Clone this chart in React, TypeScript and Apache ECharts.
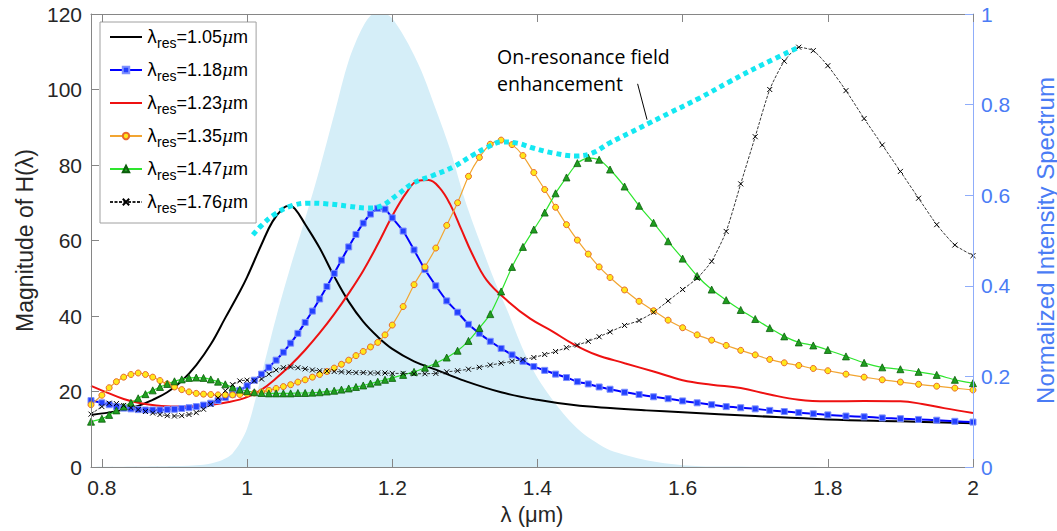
import React, { useEffect, useRef } from "react";
import * as echarts from "echarts";

// ---- tick labels ----
const xTicks = [0.8, 1.0, 1.2, 1.4, 1.6, 1.8, 2.0];

// ---- common wavelength grid for the marker series (µm) ----
const gridX = [
  0.785, 0.8, 0.81, 0.82, 0.83, 0.84, 0.85, 0.86, 0.87, 0.88, 0.89,
  0.9, 0.91, 0.92, 0.93, 0.94, 0.95, 0.96, 0.97, 0.98, 0.99,
  1.0, 1.01, 1.02, 1.03, 1.04, 1.05, 1.06, 1.07, 1.08, 1.09,
  1.1, 1.11, 1.12, 1.13, 1.14, 1.15, 1.16, 1.17, 1.18, 1.19, 1.2,
  1.215, 1.23, 1.245, 1.26, 1.275, 1.29, 1.305, 1.32, 1.335, 1.35, 1.365, 1.38, 1.395, 1.41, 1.425, 1.44, 1.455, 1.47, 1.485, 1.5,
  1.52, 1.54, 1.56, 1.58, 1.6, 1.62, 1.64, 1.66, 1.68, 1.7, 1.72, 1.74, 1.76, 1.78, 1.8,
  1.825, 1.85, 1.875, 1.9, 1.925, 1.95, 1.975, 2.0,
];

const res118 = [
  17.6, 17.0, 16.5, 16.0, 15.6, 15.4, 15.2, 15.1, 15.1, 15.1, 15.2,
  15.3, 15.5, 15.7, 16.0, 16.4, 16.9, 17.6, 18.4, 19.3, 20.3,
  21.5, 23.0, 24.6, 26.4, 28.3, 30.4, 32.8, 35.4, 38.3, 41.3,
  44.5, 47.8, 51.3, 54.8, 58.3, 61.6, 64.6, 67.0, 68.5, 68.3, 66.0,
  62.5, 57.5, 52.3, 48.0, 44.0, 41.0, 37.8, 35.4, 33.3, 31.4, 29.7, 28.0, 26.6, 25.6, 24.6, 23.7, 22.6, 22.0, 21.2, 20.6,
  19.8, 19.2, 18.6, 18.1, 17.5, 17.0, 16.5, 16.0, 15.7, 15.4, 15.0, 14.7, 14.4, 14.1, 13.8,
  13.5, 13.3, 13.0, 12.8, 12.6, 12.4, 12.1, 11.9,
];

const res135 = [
  16.5, 19.0, 21.0, 22.6, 23.8, 24.5, 24.9, 24.5, 23.8, 22.9, 22.0,
  21.2, 20.5, 19.9, 19.5, 19.3, 19.2, 19.1, 19.1, 19.1, 19.2,
  19.4, 19.6, 19.9, 20.3, 20.8, 21.3, 21.8, 22.5, 23.1, 23.8,
  24.5, 25.3, 26.2, 27.2, 28.3, 29.5, 30.6, 31.8, 33.0, 35.0, 37.6,
  42.5, 48.3, 53.0, 58.0, 64.0, 70.0, 77.0, 82.0, 85.5, 86.6, 85.4, 82.5, 78.0, 73.5, 68.8, 64.2, 60.1, 56.4, 53.0, 50.2,
  46.9, 43.9, 41.4, 38.9, 36.9, 35.0, 33.6, 32.2, 30.9, 29.7, 28.5, 27.6, 26.9, 26.1, 25.5,
  24.6, 23.8, 23.1, 22.5, 21.9, 21.4, 20.9, 20.4,
];

const res147 = [
  12.0, 12.8, 13.8, 15.0, 16.0, 17.0, 18.2, 19.3, 20.3, 21.2, 22.0,
  22.7, 23.2, 23.6, 23.7, 23.6, 23.2, 22.6, 21.9, 21.1, 20.5,
  20.1, 19.8, 19.6, 19.5, 19.5, 19.5, 19.5, 19.6, 19.6, 19.7,
  19.8, 20.0, 20.2, 20.5, 20.8, 21.2, 21.6, 22.1, 22.6, 23.1, 23.6,
  24.4, 25.2, 26.3, 27.5, 29.0, 30.8, 33.4, 36.8, 40.5, 46.5, 53.0, 58.3, 62.9, 67.4, 72.5, 76.7, 80.5, 81.9, 81.4, 78.8,
  74.3, 69.2, 64.7, 59.8, 55.2, 50.6, 47.0, 44.2, 41.6, 39.2, 36.8, 34.6, 33.0, 32.2, 31.0,
  29.3, 27.6, 26.4, 25.9, 25.2, 24.4, 23.1, 22.2,
];

const res176 = [
  14.0, 16.0, 16.9, 16.8, 16.3, 15.7, 15.2, 14.7, 14.3, 13.9, 13.6,
  13.5, 13.6, 13.9, 14.4, 15.3, 16.6, 18.3, 20.2, 21.8, 22.8,
  23.0, 22.8, 23.3, 24.6, 25.7, 26.3, 26.5, 26.3, 26.0, 25.7,
  25.5, 25.4, 25.3, 25.2, 25.1, 25.0, 25.0, 24.9, 24.9, 24.9, 24.8,
  24.8, 24.7, 24.7, 24.8, 25.2, 25.5, 25.9, 26.4, 27.0, 27.5, 28.0, 28.5, 29.0, 29.8, 30.6, 31.6, 32.3, 33.3, 34.5, 35.8,
  37.5, 38.8, 41.0, 44.0, 47.0, 50.0, 54.5, 62.4, 75.0, 87.5, 100.0, 107.5, 111.2, 110.3, 106.3,
  99.7, 92.3, 85.3, 78.3, 71.2, 64.2, 58.8, 56.0,
];

// ---- solid curves: [wavelength, |H|] ----
const res105: [number, number][] = [
  [0.785, 13.8], [0.82, 14.8], [0.85, 16.2], [0.87, 17.8], [0.89, 19.8], [0.91, 22.8],
  [0.93, 27.0], [0.95, 32.5], [0.97, 39.5], [0.99, 46.5], [1.0, 50.3], [1.02, 59.0],
  [1.035, 65.0], [1.05, 68.6], [1.058, 69.2], [1.066, 68.4], [1.08, 64.3], [1.1, 58.0],
  [1.12, 50.5], [1.14, 43.8], [1.16, 38.5], [1.18, 34.5], [1.2, 31.3], [1.23, 28.0],
  [1.26, 25.8], [1.3, 22.8], [1.35, 19.8], [1.4, 17.8], [1.45, 16.4], [1.5, 15.6],
  [1.55, 15.0], [1.6, 14.5], [1.7, 13.5], [1.8, 12.6], [1.9, 12.1], [2.0, 11.6],
];

const res123: [number, number][] = [
  [0.785, 21.5], [0.81, 19.5], [0.83, 18.0], [0.85, 17.0], [0.875, 16.3], [0.9, 16.0],
  [0.925, 16.1], [0.95, 16.5], [0.975, 17.2], [1.0, 18.5], [1.02, 20.5], [1.04, 23.5],
  [1.06, 27.0], [1.08, 31.0], [1.1, 35.5], [1.12, 40.5], [1.14, 46.0], [1.16, 52.0],
  [1.18, 59.0], [1.2, 66.5], [1.22, 72.8], [1.235, 75.8], [1.25, 76.0], [1.265, 74.0],
  [1.28, 69.5], [1.295, 63.0], [1.31, 56.5], [1.33, 49.5], [1.36, 43.8], [1.39, 39.3],
  [1.42, 36.0], [1.45, 32.5], [1.48, 29.8], [1.52, 27.5], [1.56, 25.3], [1.6, 23.0],
  [1.64, 21.8], [1.68, 20.9], [1.72, 19.2], [1.76, 17.8], [1.8, 17.4], [1.85, 17.5],
  [1.9, 17.4], [1.93, 16.7], [1.96, 15.6], [2.0, 14.3],
];

// ---- on-resonance field enhancement envelope ----
const envelope: [number, number][] = [
  [1.008, 61.5], [1.02, 64.0], [1.037, 66.8], [1.06, 69.1], [1.084, 69.9], [1.111, 69.7],
  [1.139, 69.1], [1.166, 68.6], [1.184, 69.1], [1.207, 72.1], [1.229, 75.2], [1.257, 77.3],
  [1.284, 79.5], [1.311, 82.6], [1.33, 84.6], [1.351, 86.1], [1.372, 85.8], [1.394, 84.5],
  [1.421, 83.2], [1.454, 82.4], [1.476, 83.2], [1.499, 85.8], [1.527, 88.5], [1.554, 91.1],
  [1.582, 93.8], [1.623, 97.7], [1.664, 102.0], [1.709, 106.5], [1.761, 111.3],
];

// ---- normalized intensity spectrum (right axis) ----
const spectrum: [number, number][] = [
  [0.785, 0], [0.9, 0.002], [0.94, 0.005], [0.96, 0.012], [0.98, 0.03], [1.0, 0.085],
  [1.02, 0.205], [1.04, 0.33], [1.06, 0.443], [1.08, 0.548], [1.1, 0.658], [1.12, 0.778],
  [1.14, 0.897], [1.16, 0.973], [1.175, 1.0], [1.19, 1.0], [1.2, 0.99], [1.22, 0.94],
  [1.24, 0.875], [1.26, 0.79], [1.28, 0.70], [1.3, 0.59], [1.32, 0.50], [1.34, 0.415],
  [1.36, 0.34], [1.38, 0.26], [1.4, 0.197], [1.42, 0.15], [1.44, 0.11], [1.46, 0.078],
  [1.48, 0.055], [1.5, 0.037], [1.55, 0.015], [1.6, 0.004], [1.65, 0.001], [2.0, 0],
];

const legendNames = ["1.05", "1.18", "1.23", "1.35", "1.47", "1.76"];
const annotationText = "On-resonance field\nenhancement";
const arrowStart: [number, number] = [1.538, 101.5];
const arrowEnd: [number, number] = [1.551, 92.0];

const zip = (xs: number[], ys: number[]) => xs.map((x, i) => [x, ys[i]]);

const FONT = "Liberation Sans";
const AX = "#868686";
const TXT = "#262626";
const BLUE = "#4a7cf5";

export default function App() {
  const ref = useRef<HTMLDivElement>(null);

  useEffect(() => {
    if (!ref.current) return;
    const chart = echarts.init(ref.current, undefined, { renderer: "svg" });
    const xAxisCommon = {
      type: "value",
      min: 0.785,
      max: 2,
      splitLine: { show: false },
      axisLine: { show: true, onZero: false, lineStyle: { color: AX, width: 1 } },
      axisTick: { show: true, inside: true, length: 8, customValues: xTicks, lineStyle: { color: AX } },
      z: 5,
    };
    const option: any = {
      animation: false,
      backgroundColor: "#ffffff",
      textStyle: { fontFamily: FONT },
      grid: { left: 91, right: 84, top: 14, bottom: 64, containLabel: false, outerBoundsMode: "none" },
      legend: {
        data: legendNames,
        orient: "vertical",
        left: 100,
        top: 22,
        padding: [6, 8, 8, 9],
        itemGap: 11,
        itemWidth: 32,
        itemHeight: 8,
        backgroundColor: "#ffffff",
        borderColor: "#a0a0a0",
        borderWidth: 1,
        selectedMode: false,
        formatter: (name: string) => `{l|λ}{s|res}{t|=${name}}{m|μ}{t|m}`,
        textStyle: {
          fontFamily: FONT,
          fontSize: 18,
          color: "#000",
          rich: {
            l: { fontFamily: "DejaVu Sans", fontSize: 17, lineHeight: 26, color: "#000" },
            s: { fontFamily: FONT, fontSize: 14, lineHeight: 14, verticalAlign: "bottom", color: "#000" },
            t: { fontFamily: FONT, fontSize: 18, lineHeight: 26, color: "#000" },
            m: { fontFamily: "DejaVu Serif", fontStyle: "italic", fontSize: 17, lineHeight: 26, color: "#000" },
          },
        },
      },
      xAxis: [
        {
          ...xAxisCommon,
          position: "bottom",
          name: "λ (μm)",
          nameLocation: "middle",
          nameGap: 36,
          nameTextStyle: { fontFamily: FONT, fontSize: 22, color: TXT },
          axisLabel: {
            customValues: xTicks,
            formatter: (v: number) => String(Number(v.toFixed(1))),
            fontSize: 21,
            color: TXT,
            margin: 10,
          },
        },
        {
          ...xAxisCommon,
          position: "top",
          axisLabel: { show: false },
        },
      ],
      yAxis: [
        {
          type: "value",
          min: 0,
          max: 120,
          interval: 20,
          position: "left",
          name: "Magnitude of H(λ)",
          nameLocation: "middle",
          nameGap: 55,
          nameTextStyle: { fontFamily: FONT, fontSize: 23, color: TXT },
          axisLine: { show: true, lineStyle: { color: AX } },
          axisTick: { show: true, inside: true, length: 8, lineStyle: { color: AX } },
          axisLabel: { fontSize: 21, color: TXT, margin: 9 },
          splitLine: { show: false },
          z: 5,
        },
        {
          type: "value",
          min: 0,
          max: 1,
          interval: 0.2,
          position: "right",
          name: "Normalized Intensity Spectrum",
          nameLocation: "middle",
          nameGap: 60,
          nameTextStyle: { fontFamily: FONT, fontSize: 24, color: BLUE },
          axisLine: { show: true, lineStyle: { color: "#8fadfa" } },
          axisTick: { show: true, inside: true, length: 8, lineStyle: { color: "#8fadfa" } },
          axisLabel: { fontSize: 21, color: BLUE, margin: 8, formatter: (v: number) => String(Number(v.toFixed(1))) },
          splitLine: { show: false },
          z: 5,
        },
      ],
      graphic: [
        {
          type: "text",
          left: 497,
          top: 43,
          z: 100,
          style: {
            text: annotationText,
            fontFamily: "Open Sans",
            fontSize: 19.5,
            lineHeight: 27,
            fill: "#000",
          },
        },
      ],
      series: [
        {
          name: "spectrum",
          type: "line",
          yAxisIndex: 1,
          data: spectrum,
          smooth: 0.3,
          symbol: "none",
          lineStyle: { width: 0 },
          areaStyle: { color: "#d5eef8", opacity: 1 },
          z: 1,
          silent: true,
        },
        {
          name: "1.05",
          type: "line",
          data: res105,
          smooth: 0.4,
          symbol: "none",
          lineStyle: { color: "#000000", width: 2 },
          itemStyle: { color: "#000000", opacity: 0 },
          z: 3,
        },
        {
          name: "1.18",
          type: "line",
          data: zip(gridX, res118),
          smooth: 0.2,
          symbol: "rect",
          symbolSize: 6,
          lineStyle: { color: "#0000ff", width: 2 },
          itemStyle: { color: "#2340ff", borderColor: "#7e90ff", borderWidth: 1 },
          z: 3,
        },
        {
          name: "1.23",
          type: "line",
          data: res123,
          smooth: 0.4,
          symbol: "none",
          lineStyle: { color: "#ee1111", width: 2 },
          itemStyle: { color: "#ee1111", opacity: 0 },
          z: 3,
        },
        {
          name: "1.35",
          type: "line",
          data: zip(gridX, res135),
          smooth: 0.2,
          symbol: "circle",
          symbolSize: 6,
          lineStyle: { color: "#f2a531", width: 1.2 },
          itemStyle: { color: "#ffe81a", borderColor: "#e8692c", borderWidth: 1 },
          z: 3,
        },
        {
          name: "1.47",
          type: "line",
          data: zip(gridX, res147),
          smooth: 0.2,
          symbol: "triangle",
          symbolSize: 7,
          lineStyle: { color: "#2ee52e", width: 1.2 },
          itemStyle: { color: "#1f9e1f", borderColor: "#0b5e0b", borderWidth: 0.8 },
          z: 3,
        },
        {
          name: "1.76",
          type: "line",
          data: zip(gridX, res176),
          smooth: 0.2,
          symbol: "path://M0,0L10,10M10,0L0,10",
          symbolSize: 5,
          lineStyle: { color: "#222222", width: 0.9, type: [3, 1.5] },
          itemStyle: { color: "none", borderColor: "#000000", borderWidth: 1 },
          z: 3,
        },
        {
          name: "envelope",
          type: "line",
          data: envelope,
          smooth: 0.4,
          symbol: "none",
          lineStyle: { color: "#14e8f2", width: 5, type: [5, 4], cap: "butt" },
          z: 4,
          markLine: {
            silent: true,
            symbol: ["none", "arrow"],
            symbolSize: [0, 9],
            label: { show: false },
            lineStyle: { color: "#000", width: 1, type: "solid" },
            data: [[{ coord: arrowStart }, { coord: arrowEnd }]],
          },
        },
      ],
    };
    chart.setOption(option);
    return () => chart.dispose();
  }, []);

  return <div ref={ref} style={{ position: "absolute", left: 0, top: 0, width: 1057, height: 531 }} />;
}
